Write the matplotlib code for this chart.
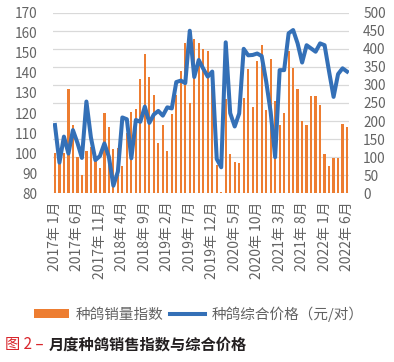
import numpy as np
import matplotlib
matplotlib.use('Agg')
import matplotlib.pyplot as plt

plt.rcParams['font.family'] = ['Noto Sans CJK SC', 'DejaVu Sans']

# monthly data, 2017-01 .. 2022-06
months = [f'{y}年 {m}月' for y in range(2017, 2023) for m in range(1, 13)][:66]

sales_index = [100, 96, 100, 132, 114, 98, 89, 101, 103, 96,
               92.5, 120, 113, 102, 102.5, 93.5, 110, 120.5, 122, 137,
               149.5, 138, 129, 105, 114, 101, 119.5, 129, 141, 155,
               125, 157, 155, 152, 151, 135, 94, 80.5, 127, 99.5,
               95.5, 95, 127.5, 142, 123, 146, 154, 121.5, 147, 126,
               114, 120, 151, 142.5, 132, 116, 114, 128.5, 128.5, 124,
               99.5, 93.5, 97.5, 97.5, 114.5, 113]

price = [189, 85, 157, 110, 175, 140, 98, 254, 155, 92,
         103, 138, 101, 21, 60, 210, 205, 97, 203, 198,
         240, 195, 218, 228, 215, 238, 235, 308, 312, 305,
         450, 322, 369, 345, 323, 337, 95, 72, 418, 222,
         185, 221, 400, 382, 383, 387, 380, 310, 225, 100,
         341, 341, 443, 452, 415, 362, 410, 401, 392, 415,
         410, 337, 267, 330, 346, 337]

orange = '#ed7d31'
blue = '#3470b7'
grey = '#636363'

fig = plt.figure(figsize=(3.94, 3.62), dpi=100)
ax1 = fig.add_axes([52.7/394, 1 - 193.3/362, 296.6/394, 180.6/362])
ax2 = ax1.twinx()

x = np.arange(len(months))

# gridlines follow the right axis (every 50)
for r in range(0, 501, 50):
    ax1.axhline(80 + r * 90 / 500, color='#d9d9d9', lw=0.9, zorder=0)

bars = ax1.bar(x, sales_index, width=0.5, bottom=0, color=orange, zorder=2,
               label='种鸽销量指数')
ax1.set_ylim(80, 170)
ax1.set_yticks(range(80, 171, 10))
ax1.set_xlim(-0.5, len(months) - 0.5)
ax1.set_xticks(x[::5])
ax1.set_xticklabels(months[::5], rotation=90)

line, = ax2.plot(x, price, color=blue, lw=2.9, solid_joinstyle='round',
                 label='种鸽综合价格（元/对）')
ax2.set_ylim(0, 500)
ax2.set_yticks(range(0, 501, 50))

for ax in (ax1, ax2):
    for s in ax.spines.values():
        s.set_visible(False)
    ax.tick_params(length=0, labelsize=9.8, colors=grey)
ax1.tick_params(axis='y', pad=11)
ax2.tick_params(axis='y', pad=10)
ax1.tick_params(axis='x', pad=6, labelsize=10)

fig.legend([bars, line], ['种鸽销量指数', '种鸽综合价格（元/对）'],
           loc='center', bbox_to_anchor=(0.505, 1 - 314/362), ncol=2,
           frameon=False, fontsize=10.5, labelcolor=grey,
           handlelength=2.4, handleheight=0.5, handletextpad=0.5,
           columnspacing=0.4)

t1 = fig.text(5/394, 1 - 345/362, '图 2 –', color='#d9262c', fontsize=11,
              va='center', ha='left')
fig.canvas.draw()
bb = t1.get_window_extent()
fig.text((bb.x1 + 5) / fig.bbox.width, 1 - 345/362, '月度种鸽销售指数与综合价格',
         color='#231f20', fontsize=11, fontweight='bold', va='center', ha='left')

fig.savefig('out.png', dpi=100)
